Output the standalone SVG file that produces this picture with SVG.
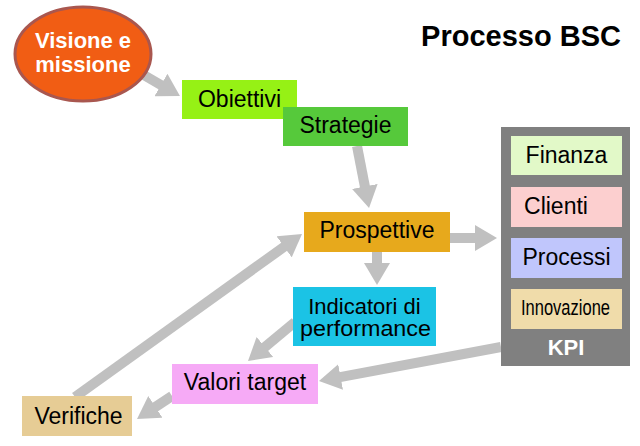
<svg xmlns="http://www.w3.org/2000/svg" width="640" height="446" viewBox="0 0 640 446">
<defs>
<marker id="ah" viewBox="0 0 22 26" refX="6" refY="13" markerWidth="22" markerHeight="26" markerUnits="userSpaceOnUse" orient="auto">
<path d="M0,0 L22,13 L0,26 Z" fill="#c0c0c0"/>
</marker>
</defs>
<style>
text{font-family:"Liberation Sans",Arial,sans-serif;fill:#000;text-anchor:middle}
.c line{stroke:#c0c0c0;stroke-width:10;marker-end:url(#ah)}
.t{font-size:23px}
.w{font-weight:bold;fill:#fff;font-size:22px}
</style>
<rect width="640" height="446" fill="#fff"/>
<text x="521" y="46" style="font-size:29px;font-weight:bold">Processo BSC</text>
<g class="c" id="connectors">
<line x1="142" y1="74" x2="166.1" y2="88"/>
<line x1="357" y1="146" x2="366" y2="192.3"/>
<line x1="450" y1="238" x2="481" y2="238"/>
<line x1="377" y1="252" x2="377" y2="269"/>
<line x1="295" y1="322" x2="260.3" y2="350.8"/>
<line x1="501" y1="347" x2="334.7" y2="378.1"/>
<line x1="172" y1="396" x2="150.4" y2="410.2"/>
<line x1="75" y1="397" x2="289" y2="243.3"/>
</g>
<g id="visione">
<ellipse cx="83" cy="54" rx="68" ry="47" fill="#f15d14" stroke="#a9574f" stroke-width="3"/>
<text class="w" x="83" y="48">Visione e</text>
<text class="w" x="83" y="72">missione</text>
</g>
<g id="obiettivi">
<rect x="182" y="80" width="115" height="39" fill="#96f115"/>
<text class="t" x="239.5" y="107">Obiettivi</text>
</g>
<g id="strategie">
<rect x="283" y="107" width="125" height="39" fill="#56c93b"/>
<text class="t" x="345.5" y="133">Strategie</text>
</g>
<g id="kpi">
<rect x="501" y="127" width="129" height="239" fill="#808080"/>
<text class="w" x="566" y="355">KPI</text>
</g>
<g id="finanza">
<rect x="511" y="136" width="111" height="39" fill="#e2f9c8"/>
<text class="t" x="566.5" y="163">Finanza</text>
</g>
<g id="clienti">
<rect x="511" y="187" width="111" height="40" fill="#fccfcf"/>
<text class="t" x="556" y="214">Clienti</text>
</g>
<g id="processi">
<rect x="511" y="238" width="111" height="40" fill="#c0c6fc"/>
<text class="t" x="566.5" y="265">Processi</text>
</g>
<g id="innovazione">
<rect x="511" y="289" width="111" height="40" fill="#f0dcaa"/>
<text x="565.5" y="315" style="font-size:22px" textLength="89" lengthAdjust="spacingAndGlyphs">Innovazione</text>
</g>
<g id="prospettive">
<rect x="304" y="212" width="146" height="40" fill="#e7a91c"/>
<text class="t" x="377" y="238">Prospettive</text>
</g>
<g id="indicatori">
<rect x="293" y="287" width="143" height="59" fill="#1bc3e5"/>
<text x="364.5" y="314" style="font-size:22px">Indicatori di</text>
<text x="365.5" y="336" style="font-size:22px" textLength="131" lengthAdjust="spacingAndGlyphs">performance</text>
</g>
<g id="valori">
<rect x="172" y="364" width="146" height="40" fill="#f6aaf6"/>
<text class="t" x="245" y="390">Valori target</text>
</g>
<g id="verifiche">
<rect x="22" y="396" width="110" height="40" fill="#e6cc95"/>
<text class="t" x="78.5" y="424">Verifiche</text>
</g>
</svg>
